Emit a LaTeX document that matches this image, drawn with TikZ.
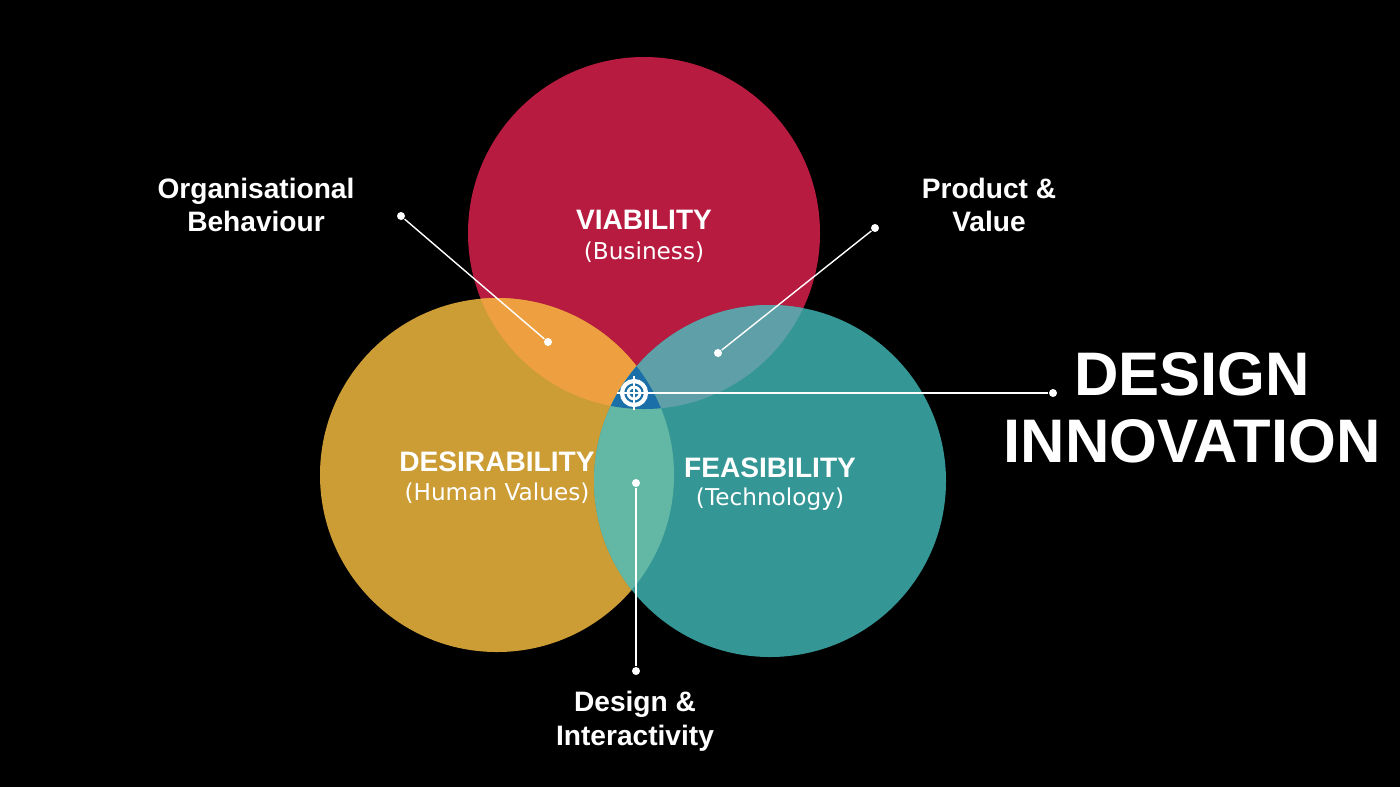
\documentclass[tikz,border=0pt]{standalone}
\usepackage{fontspec}
\setmainfont{Liberation Sans}
\newfontfamily\dvsans{DejaVu Sans}
\usetikzlibrary{calc}
\definecolor{viab}{HTML}{B71B40}
\definecolor{desir}{HTML}{CC9C35}
\definecolor{feas}{HTML}{359696}
\definecolor{vd}{HTML}{EEA040}
\definecolor{vf}{HTML}{5FA0A8}
\definecolor{df}{HTML}{62B8A4}
\definecolor{core}{HTML}{1A6FA8}
\tikzset{
  lbl/.style={text=white,font=\bfseries\fontsize{8}{9.6}\selectfont,align=center},
  sub/.style={text=white,font=\dvsans\fontsize{6.6}{8}\selectfont},
  dot/.style={circle,fill=white,inner sep=0pt,minimum size=0.08cm},
  lead/.style={white,line width=0.4pt}
}
\begin{document}
\begin{tikzpicture}[y=-1cm]
\fill[black] (0,0) rectangle (14,7.87);
\useasboundingbox (0,0) rectangle (14,7.87);
% circles
\def\vc{(6.44,2.33) circle (1.76)}
\def\dc{(4.97,4.75) circle (1.77)}
\def\fc{(7.70,4.81) circle (1.76)}
\fill[viab] \vc;
\fill[desir] \dc;
\fill[feas] \fc;
\begin{scope}\clip \vc; \fill[vd] \dc; \fill[vf] \fc; \end{scope}
\begin{scope}\clip \dc; \fill[df] \fc; \end{scope}
\begin{scope}\clip \vc; \clip \dc; \fill[core] \fc; \end{scope}
% titles
\node[lbl] (viat) at (6.44,2.20) {VIABILITY};
\node[sub] (vias) at (6.44,2.52) {(Business)};
\node[lbl] (dest) at (4.97,4.62) {DESIRABILITY};
\node[sub] (dess) at (4.97,4.93) {(Human Values)};
\node[lbl] (feat) at (7.70,4.68) {FEASIBILITY};
\node[sub] (feas) at (7.70,4.99) {(Technology)};
% target
\coordinate (tgt) at (6.34,3.93);
\draw[white,line width=1.2pt] (tgt) circle (0.12);
\draw[white,line width=0.8pt] (tgt) circle (0.06);
\draw[white,line width=0.8pt] ($(tgt)+(-0.17,0)$) -- ($(tgt)+(0.17,0)$) ($(tgt)+(0,-0.17)$) -- ($(tgt)+(0,0.17)$);
% leaders
\node[dot] (ob1) at (4.01,2.16) {};
\node[dot] (ob2) at (5.48,3.42) {};
\node[dot] (pv1) at (8.75,2.28) {};
\node[dot] (pv2) at (7.18,3.53) {};
\node[dot] (di1) at (6.36,4.83) {};
\node[dot] (di2) at (6.36,6.71) {};
\node[dot] (dn) at (10.53,3.93) {};
\draw[lead] (ob1) -- (ob2);
\draw[lead] (pv1) -- (pv2);
\draw[lead] (di1) -- (di2);
\draw[lead] (tgt) -- (dn);
% labels
\node[lbl] (org) at (2.56,2.05) {Organisational\\Behaviour};
\node[lbl] (prod) at (9.89,2.05) {Product \&\\Value};
\node[lbl] (desi) at (6.35,7.21) {Design \&\\Interactivity};
\node[text=white,font=\bfseries\fontsize{17.5}{19}\selectfont,align=center] (inno) at (11.92,4.08) {DESIGN\\INNOVATION};
\end{tikzpicture}
\end{document}
